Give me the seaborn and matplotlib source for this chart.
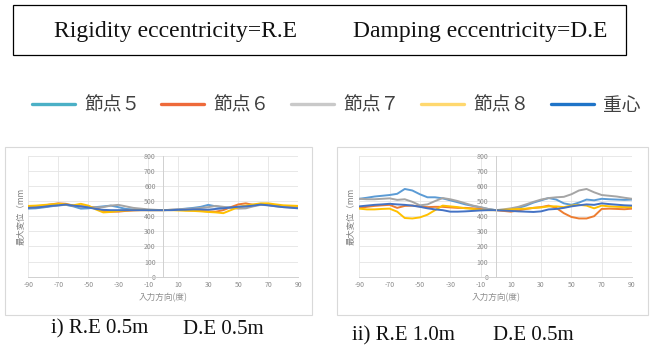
import matplotlib
matplotlib.use("Agg")
import matplotlib.pyplot as plt
from matplotlib.lines import Line2D
from matplotlib.patches import Rectangle
import pandas as pd
import seaborn as sns

# Input direction (degrees)
angles = list(range(-90, 95, 5))

node_names = ["節点５", "節点６", "節点７", "節点８", "重心"]

# Case i) R.E 0.5m, D.E 0.5m  -- maximum displacement (mm)
case1_node5 = [450, 452, 458, 465, 472, 475, 465, 450, 452, 460, 465, 470, 460, 448, 445, 442, 440, 440, 440,
               442, 445, 450, 455, 462, 475, 465, 458, 458, 462, 465, 470, 480, 475, 468, 462, 460, 458]
case1_node6 = [462, 465, 470, 478, 485, 482, 470, 465, 465, 455, 435, 430, 430, 435, 438, 440, 440, 440, 440,
               442, 442, 440, 438, 435, 432, 430, 440, 460, 478, 485, 475, 475, 478, 472, 465, 460, 458]
case1_node7 = [455, 458, 462, 468, 472, 475, 470, 465, 460, 458, 460, 470, 475, 465, 455, 450, 445, 442, 440,
               442, 445, 448, 450, 455, 460, 468, 462, 455, 450, 452, 465, 475, 472, 465, 460, 458, 455]
case1_node8 = [468, 470, 474, 478, 482, 478, 472, 482, 470, 445, 425, 428, 435, 438, 440, 440, 440, 440, 440,
               440, 438, 436, 435, 432, 428, 425, 420, 440, 460, 470, 478, 485, 485, 478, 472, 470, 468]
case1_center = [455, 457, 462, 468, 472, 477, 470, 465, 458, 448, 442, 440, 440, 440, 440, 440, 440, 440, 440,
                440, 442, 443, 445, 445, 443, 448, 452, 458, 462, 465, 470, 477, 472, 466, 460, 456, 452]

# Case ii) R.E 1.0m, D.E 0.5m  -- maximum displacement (mm)
case2_node5 = [515, 522, 530, 535, 540, 548, 580, 570, 545, 525, 525, 518, 505, 492, 478, 468, 458, 448, 440,
               438, 442, 455, 470, 490, 505, 520, 510, 485, 475, 490, 510, 505, 515, 512, 510, 508, 510]
case2_node6 = [455, 462, 468, 472, 475, 455, 468, 470, 465, 460, 462, 462, 458, 455, 455, 452, 448, 442, 440,
               435, 430, 438, 448, 455, 460, 470, 455, 420, 395, 385, 385, 400, 448, 450, 448, 446, 450]
case2_node7 = [515, 512, 512, 515, 518, 508, 512, 495, 472, 478, 500, 520, 512, 500, 485, 470, 460, 448, 440,
               445, 452, 462, 478, 495, 510, 520, 525, 528, 545, 570, 580, 558, 540, 535, 530, 522, 515]
case2_node8 = [450, 445, 445, 448, 450, 430, 388, 385, 392, 410, 440, 470, 465, 460, 452, 448, 442, 440, 440,
               442, 445, 448, 450, 455, 458, 465, 465, 460, 470, 475, 470, 452, 470, 465, 462, 460, 460]
case2_center = [465, 470, 475, 478, 482, 478, 475, 470, 462, 452, 445, 440, 430, 430, 432, 435, 438, 440, 440,
                438, 435, 432, 430, 428, 432, 445, 448, 455, 465, 472, 478, 475, 485, 480, 476, 472, 470]

x_ticks = list(range(-90, 91, 20))
y_ticks = list(range(0, 801, 100))

line_colors = ["#5B9BD5", "#ED7D31", "#A5A5A5", "#FFC000", "#4472C4"]
legend_colors = ["#4BB0C6", "#EE6A3A", "#C9C9C9", "#FFD86E", "#1F74C8"]

sns.set_theme(style="white")
cjk = ["Noto Sans CJK JP", "DejaVu Sans"]
plt.rcParams["font.family"] = cjk
plt.rcParams["axes.unicode_minus"] = False


def long_form(series):
    rows = []
    for name, values in zip(node_names, series):
        for a, v in zip(angles, values):
            rows.append({"angle": a, "disp": v, "node": name})
    return pd.DataFrame(rows)


W, H = 661, 347
fig = plt.figure(figsize=(W / 100, H / 100), dpi=100)
fig.patch.set_facecolor("white")


def fx(px):
    return px / W


def fy(py):
    return 1 - py / H


# Header box
fig.patches.append(Rectangle((fx(13), fy(55)), fx(626) - fx(13), fy(5) - fy(55),
                             transform=fig.transFigure, fill=False, edgecolor="black", lw=0.9))
fig.text(fx(54), fy(32), "Rigidity eccentricity=R.E", family="Liberation Serif",
         fontsize=17, ha="left", va="center", color="#111111")
fig.text(fx(607), fy(32), "Damping eccentricity=D.E", family="Liberation Serif",
         fontsize=17, ha="right", va="center", color="#111111")

# Shared legend
handles = [Line2D([], [], color=c, lw=2.4) for c in legend_colors]
fig.legend(handles, node_names, loc="center", bbox_to_anchor=(fx(336), fy(105)), ncol=5,
           frameon=False, handlelength=2.3, handletextpad=0.5,
           columnspacing=1.12, labelcolor="#404040", prop={"family": cjk, "size": 13.5})

panels = [
    {"frame": (5, 147, 312, 315), "axes": (28.3, 155.7, 298.3, 276.7), "ylab_x": 20.7,
     "data": [case1_node5, case1_node6, case1_node7, case1_node8, case1_center],
     "caption": ("i) R.E 0.5m", "D.E 0.5m"), "cap_x": (51, 183), "cap_y": 329},
    {"frame": (337, 147, 648, 315), "axes": (359.3, 155.7, 632.0, 276.7), "ylab_x": 351,
     "data": [case2_node5, case2_node6, case2_node7, case2_node8, case2_center],
     "caption": ("ii) R.E 1.0m", "D.E 0.5m"), "cap_x": (352, 493), "cap_y": 335.5},
]

for p in panels:
    l, t, r, b = p["frame"]
    fig.patches.append(Rectangle((fx(l), fy(b)), fx(r) - fx(l), fy(t) - fy(b),
                                 transform=fig.transFigure, fill=False,
                                 edgecolor="#D9D9D9", lw=0.8))
    al, at, ar, ab = p["axes"]
    ax = fig.add_axes([fx(al), fy(ab), fx(ar) - fx(al), fy(at) - fy(ab)])
    ax.set_facecolor("white")
    df = long_form(p["data"])
    sns.lineplot(data=df, x="angle", y="disp", hue="node", hue_order=node_names,
                 palette=line_colors, legend=False, ax=ax, linewidth=1.4)
    ax.set_xlim(-90, 90)
    ax.set_ylim(0, 800)
    ax.set_xticks(x_ticks)
    ax.set_yticks(y_ticks)
    ax.set_xticklabels([str(v) for v in x_ticks])
    ax.set_yticklabels([str(v) for v in y_ticks])
    ax.grid(True, color="#E4E4E4", lw=0.6)
    ax.set_axisbelow(True)
    for s in ["top", "right"]:
        ax.spines[s].set_visible(False)
    ax.spines["left"].set_position(("data", 0))
    ax.spines["left"].set_color("#D0D0D0")
    ax.spines["left"].set_linewidth(0.7)
    ax.spines["bottom"].set_color("#D0D0D0")
    ax.spines["bottom"].set_linewidth(0.7)
    ax.tick_params(axis="x", length=0, labelsize=5, labelcolor="#8C8C8C", pad=3)
    ax.tick_params(axis="y", length=0, labelsize=5, labelcolor="#8C8C8C", pad=5.5)
    ax.set_xlabel("")
    ax.set_ylabel("")
    ax.text(0.5, -0.174, "入力方向(度)", transform=ax.transAxes, ha="center", va="center",
            fontsize=6.2, color="#8C8C8C")
    fig.text(fx(p["ylab_x"]), fy(216.7), "最大変位（mm", rotation=90, ha="center", va="center",
             fontsize=6, color="#7F7F7F")
    c1, c2 = p["caption"]
    x1, x2 = p["cap_x"]
    fig.text(fx(x1), fy(p["cap_y"]), c1, family="Liberation Serif", fontsize=15,
             ha="left", va="center", color="#111111")
    fig.text(fx(x2), fy(p["cap_y"]), c2, family="Liberation Serif", fontsize=15,
             ha="left", va="center", color="#111111")

fig.savefig("out.png", dpi=100, facecolor="white")
